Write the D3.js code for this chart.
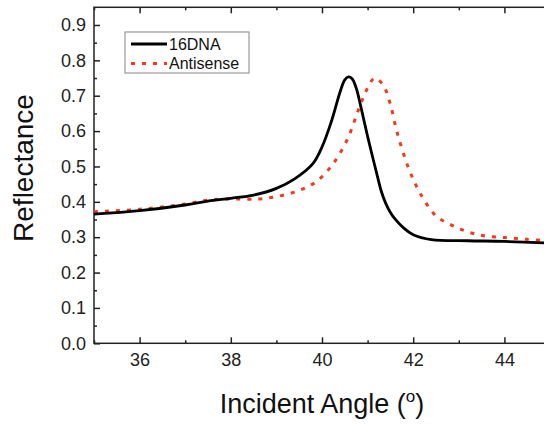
<!DOCTYPE html>
<html>
<head>
<meta charset="utf-8">
<script src="https://cdn.jsdelivr.net/npm/d3@7"></script>
<style>
  body { margin: 0; overflow: hidden; background: #fff; }
  text { font-family: 'Liberation Sans', Arial, sans-serif; }
</style>
</head>
<body>
<div id="chart"></div>
<script>
// data
const seriesNames = ['16DNA', 'Antisense']

const dnaAngles = [35, 36, 37, 37.5, 38, 38.5, 39, 39.4, 39.8, 40.0, 40.2, 40.4, 40.5, 40.58, 40.66, 40.75, 40.85, 41.0, 41.2, 41.3, 41.4, 41.5, 41.6, 41.8, 42.0, 42.4, 43.2, 44.0, 45]
const dnaRefl = [0.365, 0.375, 0.391, 0.402, 0.410, 0.419, 0.438, 0.465, 0.508, 0.555, 0.625, 0.712, 0.745, 0.753, 0.748, 0.722, 0.67, 0.585, 0.48, 0.43, 0.395, 0.37, 0.352, 0.325, 0.307, 0.293, 0.290, 0.288, 0.283]

const antiAngles = [35, 36, 37, 37.5, 38, 38.6, 39.05, 39.5, 39.85, 40.2, 40.55, 40.8, 41.0, 41.16, 41.35, 41.5, 41.65, 41.9, 42.15, 42.5, 42.8, 43.05, 43.3, 43.55, 44.0, 44.5, 45]
const antiRefl = [0.372, 0.379, 0.394, 0.405, 0.408, 0.408, 0.416, 0.432, 0.455, 0.50, 0.575, 0.66, 0.722, 0.75, 0.728, 0.675, 0.595, 0.495, 0.425, 0.36, 0.337, 0.322, 0.311, 0.304, 0.299, 0.294, 0.289]

const xMajorTicks = [36, 38, 40, 42, 44]
const xMinorTicks = [35, 37, 39, 41, 43, 45]
const yMajorTicks = [0, 0.1, 0.2, 0.3, 0.4, 0.5, 0.6, 0.7, 0.8, 0.9]
const yMinorTicks = [0.05, 0.15, 0.25, 0.35, 0.45, 0.55, 0.65, 0.75, 0.85]

const dims = { width: 544, height: 426, left: 94, right: 550, top: 7.3, bottom: 343.3 }

const svg = d3.select('#chart')
  .append('svg')
  .attr('width', dims.width)
  .attr('height', dims.height)

const xScale = d3.scaleLinear().domain([35, 45]).range([dims.left, dims.right])
const yScale = d3.scaleLinear().domain([0, 0.95]).range([dims.bottom, dims.top])

// frame
svg.append('rect')
  .attr('x', dims.left)
  .attr('y', dims.top)
  .attr('width', dims.right - dims.left)
  .attr('height', dims.bottom - dims.top)
  .attr('fill', 'none')
  .attr('stroke', '#222')
  .attr('stroke-width', 1.5)

// axes, ticks pointing inwards
const styleAxis = (g) => {
  g.select('.domain').remove()
  g.selectAll('line').attr('stroke', '#222').attr('stroke-width', 1.5)
  g.selectAll('text').attr('fill', '#222').attr('font-size', '18px')
}

svg.append('g')
  .attr('transform', `translate(0, ${dims.bottom})`)
  .call(d3.axisBottom(xScale).tickValues(xMajorTicks).tickSize(-6).tickPadding(10).tickFormat(d3.format('d')))
  .call(styleAxis)

svg.append('g')
  .attr('transform', `translate(0, ${dims.bottom})`)
  .call(d3.axisBottom(xScale).tickValues(xMinorTicks).tickSize(-3).tickFormat(''))
  .call(styleAxis)

svg.append('g')
  .attr('transform', `translate(0, ${dims.top})`)
  .call(d3.axisTop(xScale).tickValues(xMajorTicks).tickSize(-6).tickFormat(''))
  .call(styleAxis)

svg.append('g')
  .attr('transform', `translate(0, ${dims.top})`)
  .call(d3.axisTop(xScale).tickValues(xMinorTicks).tickSize(-3).tickFormat(''))
  .call(styleAxis)

svg.append('g')
  .attr('transform', `translate(${dims.left}, 0)`)
  .call(d3.axisLeft(yScale).tickValues(yMajorTicks).tickSize(-6).tickPadding(8).tickFormat(d3.format('.1f')))
  .call(styleAxis)

svg.append('g')
  .attr('transform', `translate(${dims.left}, 0)`)
  .call(d3.axisLeft(yScale).tickValues(yMinorTicks).tickSize(-3).tickFormat(''))
  .call(styleAxis)

svg.append('g')
  .attr('transform', `translate(${dims.right}, 0)`)
  .call(d3.axisRight(yScale).tickValues(yMajorTicks).tickSize(-6).tickFormat(''))
  .call(styleAxis)

svg.append('g')
  .attr('transform', `translate(${dims.right}, 0)`)
  .call(d3.axisRight(yScale).tickValues(yMinorTicks).tickSize(-3).tickFormat(''))
  .call(styleAxis)

// curves
const line = d3.line()
  .x((d) => xScale(d[0]))
  .y((d) => yScale(d[1]))
  .curve(d3.curveCatmullRom.alpha(0.5))

const plot = svg.append('g')

plot.append('path')
  .datum(antiAngles.map((a, i) => [a, antiRefl[i]]))
  .attr('d', line)
  .attr('fill', 'none')
  .attr('stroke', '#f5391f')
  .attr('stroke-width', 3)
  .attr('stroke-dasharray', '4,7')

plot.append('path')
  .datum(dnaAngles.map((a, i) => [a, dnaRefl[i]]))
  .attr('d', line)
  .attr('fill', 'none')
  .attr('stroke', '#000')
  .attr('stroke-width', 2.8)

// axis titles
svg.append('text')
  .attr('x', (dims.left + dims.right) / 2)
  .attr('y', 413)
  .attr('text-anchor', 'middle')
  .attr('font-size', '27px')
  .attr('fill', '#111')
  .text('Incident Angle (')
  .append('tspan')
  .attr('font-size', '17px')
  .attr('dy', -11)
  .text('o')
  .clone()
  .attr('font-size', '27px')
  .attr('dy', 11)
  .text(')')

svg.append('text')
  .attr('transform', `translate(33, 168) rotate(-90)`)
  .attr('text-anchor', 'middle')
  .attr('font-size', '28px')
  .attr('fill', '#111')
  .text('Reflectance')

// legend
const legend = svg.append('g')

legend.append('rect')
  .attr('x', 125)
  .attr('y', 32)
  .attr('width', 124)
  .attr('height', 41)
  .attr('fill', '#fff')
  .attr('stroke', '#999')
  .attr('stroke-width', 1.2)

const legendStyles = [
  { stroke: '#000', width: 2.8, dash: null },
  { stroke: '#f5391f', width: 3, dash: '4,7' },
]

seriesNames.forEach((name, i) => {
  const y = 44 + i * 19.5
  legend.append('line')
    .attr('x1', 131)
    .attr('x2', 167)
    .attr('y1', y)
    .attr('y2', y)
    .attr('stroke', legendStyles[i].stroke)
    .attr('stroke-width', legendStyles[i].width)
    .attr('stroke-dasharray', legendStyles[i].dash)
  legend.append('text')
    .attr('x', 169)
    .attr('y', y)
    .attr('dy', '0.35em')
    .attr('font-size', '16px')
    .attr('fill', '#111')
    .text(name)
})
</script>
</body>
</html>
